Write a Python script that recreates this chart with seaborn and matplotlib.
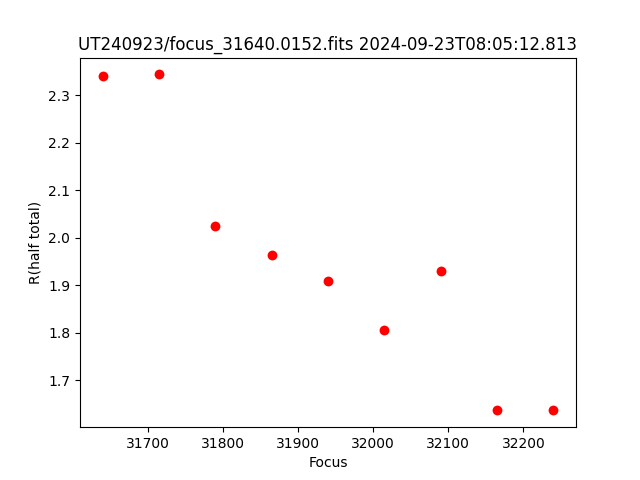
import numpy as np
import pandas as pd
import seaborn as sns
import matplotlib
matplotlib.use('Agg')
import matplotlib.pyplot as plt

# focus positions and measured half-total radius
focus = [31640, 31715, 31790, 31865, 31940, 32015, 32090, 32165, 32240]
r_half = [2.340, 2.344, 2.026, 1.965, 1.909, 1.806, 1.930, 1.637, 1.637]

df = pd.DataFrame({'Focus': focus, 'R': r_half})

fig, ax = plt.subplots(figsize=(6.4, 4.8), dpi=100)
sns.scatterplot(data=df, x='Focus', y='R', color='red', s=50, linewidth=0, ax=ax)
ax.set_xlabel('Focus')
ax.set_ylabel('R(half total)')
ax.set_title('UT240923/focus_31640.0152.fits 2024-09-23T08:05:12.813')
fig.savefig('out.png', dpi=100)
